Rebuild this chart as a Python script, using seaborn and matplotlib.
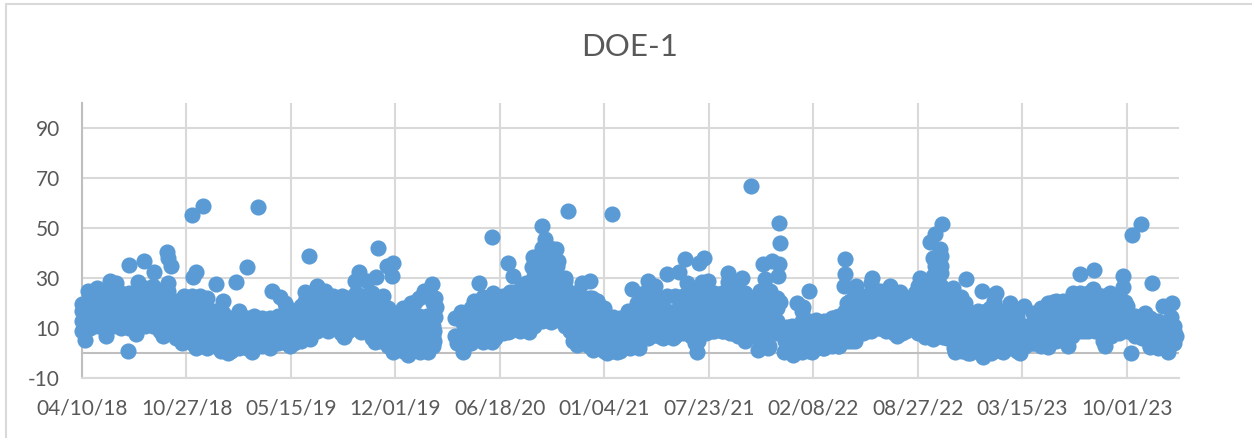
import matplotlib
matplotlib.use("Agg")
import matplotlib.pyplot as plt
from matplotlib.lines import Line2D
import seaborn as sns
import pandas as pd

# ==============================
# Data (days since 04/10/18)
# ==============================
tick_days = [0, 200, 400, 600, 800, 1000, 1200, 1400, 1600, 1800, 2000]
tick_labels = ["04/10/18", "10/27/18", "05/15/19", "12/01/19", "06/18/20", "01/04/21",
               "07/23/21", "02/08/22", "08/27/22", "03/15/23", "10/01/23"]
y_ticks = [-10, 10, 30, 50, 70, 90]

# dots on the outline of the cloud and the outliers
edge_days = [89, 90, 119, 163, 165, 170, 137, 108, 165, 54, 29, 12, 66, 6, 0, 2, 211, 231, 337, 219, 213, 256,
             294, 315, 434, 363, 379, 389, 427, 427, 450, 465, 481, 498, 531, 522, 545, 563, 567, 583, 596, 593,
             577, 580, 45, 103, 156, 191, 219, 239, 267, 280, 325, 360, 398, 436, 471, 501, 535, 561, 596, 625,
             670, 654, 638, 676, 678, 676, 673, 673, 663, 647, 714, 726, 714, 717, 730, 740, 760, 751, 768, 784,
             785, 786, 768, 816, 825, 820, 816, 855, 839, 842, 864, 861, 881, 886, 890, 907, 912, 897, 877, 930,
             925, 934, 947, 957, 973, 985, 976, 953, 979, 1005, 1015, 1024, 1017, 1049, 1067, 1046, 1062, 1052,
             1084, 1075, 1097, 1084, 1113, 1132, 1119, 1142, 1155, 1159, 1181, 1191, 1199, 1174, 1177, 1186, 1206,
             1228, 1247, 1269, 1237, 1264, 1237, 1257, 1279, 1280, 1308, 1295, 1314, 1311, 1334, 1336, 1304, 1320,
             1335, 1332, 1308, 1298, 1318, 1336, 1368, 1381, 1349, 1343, 1361, 1378, 1398, 1392, 1378, 1406,
             1412, 1428, 1419, 1447, 1473, 1444, 1460, 1460, 1461, 1458, 1482, 1470, 1502, 1527, 1512, 1527, 1546,
             1565, 1549, 1560, 1578, 1585, 1594, 1604, 1613, 1629, 1623, 1632, 1646, 1642, 1645, 1632, 1645, 1629,
             1667, 1683, 1691, 1695, 1661, 1648, 1671, 1696, 1692, 1722, 1750, 1738, 1725, 1741, 1763, 1795, 1777,
             1803, 1789, 1821, 1849, 1833, 1858, 1878, 1888, 1898, 1911, 1937, 1935, 1919, 1967, 1958, 1992, 1993,
             1996, 2010, 2027, 2009, 2012, 2034, 2049, 2044, 2069, 2087, 2085, 2090, 2095, 2079, 2060]
edge_vals = [1, 35.3, 37, 40.4, 38, 35, 32.5, 28.3, 28, 29, 26, 25, 28, 5.2, 19.6, 17, 55.2, 59, 58.4, 32.3, 30.5, 27.5,
             28.3, 34.5, 39, 25, 22.5, 20, 24.5, 21, 27, 25, 23, 23, 32.5, 29, 29, 30.5, 42, 35, 36, 31,
             23, 18, 7, 7.5, 7, 4, 2, 2, 1, 0, 0.5, 2, 3, 5.6, 9, 6.5, 8.5, 4.5, 0.5, -0.8,
             27.6, 25, 20.5, 22, 18.5, 14.5, 9, 5, 0.5, 0.5, 14, 16.5, 7, 4, 0.3, 4, 28, 21, 4.5, 4.5,
             46.5, 24, 22.5, 36, 31, 24.5, 8.5, 8.5, 9, 26.5, 38.5, 34.5, 51, 45.5, 40.5, 41.6, 37, 12.5, 14.5, 56.8,
             29, 9, 3.2, 28, 28.8, 21, 22, 20.5, 1.2, -0.1, 55.6, 0.5, 14.5, 2, 2, 17, 20, 25.6,
             29, 24, 27, 6, 6, 6, 31.6, 32.3, 37.7, 28, 36, 38, 28.8, 4, 0.5, 28.5, 9,
             9, 8, 5, 32, 30, 28.5, 25, 22, 67, 14, 1.2, 2, 9, 52, 44, 35.5, 36.8,
             35.6, 30.8, 29.6, 25, 25, 20.5, 20, 18.5, 10.5, 0.5, -0.8, 0.5, 0.3, 25, 10.5, 13.2,
             12.5, 12.5, 2, 3, 5, 14.5, 17, 37.5, 31.5, 26.8, 26.8, 21, 9, 10, 30, 25, 27,
             24.5, 9, 7, 9, 21, 24, 30, 6.5, 5.8, 44.5, 47.5, 51.7, 41.8, 39, 35, 32, 28,
             26, 22.5, 20, 16.5, 16, 6.5, 0.5, 0, 29.5, 25, 24, 18, -1.5, 0, 0.5, 0, 20,
             19, 14.5, 4, 2.5, 17, 20.5, 21, 3, 24, 31.7, 33.2, 25.5, 9, 24, 3, 31, 26.5,
             20.5, 47.2, 51.5, 0, 8, 16, 28, 2.5, 19, 20, 14.5, 9, 7, 0.5, 2]

# dots that fill the inside of the cloud, one list of values per day
fill_days = [0, 15, 30, 45, 60, 75, 90, 105, 120, 135, 150, 165, 180, 195, 210, 225, 240, 255, 270, 285,
             300, 315, 330, 345, 360, 375, 390, 405, 420, 435, 450, 465, 480, 495, 510, 525, 540, 555, 570, 585,
             600, 615, 630, 645, 660, 672, 730, 745, 760, 775, 790, 805, 820, 835, 850, 865, 880, 895, 910, 925,
             940, 955, 970, 985, 1000, 1015, 1030, 1045, 1060, 1075, 1090, 1105, 1120, 1135, 1150, 1165, 1180,
             1195, 1210, 1225, 1240, 1255, 1270, 1285, 1300, 1315, 1330, 1345, 1360, 1378, 1392, 1405, 1420, 1435,
             1450, 1465, 1480, 1495, 1510, 1525, 1540, 1555, 1570, 1585, 1600, 1615, 1630, 1645, 1655, 1670, 1685,
             1700, 1715, 1730, 1745, 1760, 1775, 1790, 1805, 1820, 1835, 1850, 1865, 1880, 1895, 1910, 1925, 1940,
             1955, 1970, 1985, 2000, 2015, 2030, 2045, 2060, 2075, 2090]
fill_vals = [[9, 13, 17], [10, 15, 20, 24], [11, 16, 21, 24], [10, 15, 20, 25], [11, 16, 21, 25], [10, 15, 20, 24],
             [10, 15, 20, 24], [10, 15, 20, 25], [11, 16, 21, 26], [11, 16, 21, 27], [9, 14, 19, 25], [10, 15, 20, 25],
             [6, 11, 16, 21], [5, 10, 15, 20, 23], [4, 9, 14, 19, 23], [3, 8, 13, 18, 23], [3, 8, 13, 18, 22],
             [3, 7, 12, 17], [2, 6, 11, 16, 21], [1, 5, 10, 14], [2, 6, 10, 14, 17], [2, 6, 10, 14], [2, 6, 10, 15],
             [3, 7, 11, 14], [3, 7, 11, 14], [4, 8, 12, 15], [4, 8, 12, 16, 19], [4, 8, 13, 17], [5, 10, 15, 19],
             [7, 12, 17, 21], [9, 14, 19, 24], [10, 15, 20, 24], [10, 14, 19, 22], [8, 13, 18, 21], [9, 14, 19, 22],
             [10, 15, 20, 24], [9, 14, 19, 23], [6, 11, 16, 21, 24], [5, 10, 15, 20], [3, 8, 13, 18], [2, 6, 10, 15],
             [1, 5, 10, 14, 18], [1, 5, 10, 14, 20], [1, 5, 10, 15, 22], [1, 5, 10, 15, 23], [3, 7, 11, 16, 20],
             [3, 8, 12, 16], [4, 9, 14, 18], [6, 11, 16, 20], [6, 11, 16, 21], [6, 11, 16, 21], [8, 13, 18, 23],
             [9, 14, 19, 24], [10, 15, 20, 25], [10, 15, 20, 25, 28], [11, 16, 21, 26, 31, 35],
             [13, 18, 23, 28, 33, 38, 42], [14, 19, 24, 29, 34, 39, 42], [15, 20, 25, 30, 35], [11, 16, 21, 26, 30],
             [5, 10, 15, 20, 24], [4, 9, 14, 19, 23], [3, 8, 13, 18, 22], [2, 7, 12, 17, 21], [1, 6, 11, 15, 18],
             [1, 6, 11, 14], [1, 6, 11, 14], [3, 8, 13, 16], [3, 8, 13, 18], [7, 12, 17, 22], [7, 12, 17, 22, 25],
             [7, 12, 17, 22], [7, 12, 17, 23], [7, 12, 17, 23], [8, 13, 18, 23], [7, 12, 17, 23, 26],
             [5, 10, 15, 20, 24], [8, 13, 18, 24, 28], [9, 14, 19, 24], [9, 14, 19, 24], [8, 13, 18, 23, 27],
             [7, 12, 17, 22, 25], [6, 11, 16, 21, 24], [7, 12, 17, 21], [3, 8, 13, 18, 22], [3, 8, 13, 19, 23],
             [8, 13, 18, 22], [1, 5, 10], [0, 4, 8, 11], [1, 5, 9, 13, 17], [1, 5, 9, 13], [2, 6, 10, 13],
             [2, 6, 10, 13], [3, 7, 11, 14], [3, 7, 11, 15], [5, 10, 15, 20], [5, 10, 15, 20, 24], [8, 13, 18, 23],
             [9, 14, 19, 24, 28], [10, 15, 20, 24], [9, 14, 19, 24], [8, 13, 18, 23], [8, 13, 18, 23], [10, 15, 20],
             [8, 13, 18, 23, 27], [7, 12, 17, 22, 27], [6, 11, 16, 21, 26, 31, 38], [7, 12, 17, 22, 27, 35],
             [6, 11, 20, 25], [2, 6, 10, 14, 21], [1, 5, 9, 13, 18], [0, 4, 8, 11], [1, 5, 9, 13, 17],
             [0, 4, 8, 12, 17], [1, 5, 9, 13, 18, 21], [1, 5, 9, 13, 17], [2, 6, 10, 14, 18], [1, 5, 9, 13, 16],
             [3, 7, 11], [4, 8, 12, 16], [3, 7, 11, 15, 18], [3, 7, 11, 15, 20], [5, 9, 13, 17, 21], [5, 10, 15, 20],
             [7, 12, 17, 22], [9, 14, 19, 24], [9, 14, 19, 24], [9, 14, 19, 24], [5, 10, 15, 20, 23], [7, 12, 17, 22],
             [8, 13, 18, 23], [9, 14, 19], [7, 11, 15], [6, 10, 14], [3, 7, 11, 14], [3, 7, 10, 13], [2, 6, 10],
             [4, 8, 11]]

# ==============================
# Table for seaborn
# ==============================
fill_df = pd.DataFrame({"day": fill_days, "value": fill_vals}).explode("value")
edge_df = pd.DataFrame({"day": edge_days, "value": edge_vals})
df = pd.concat([edge_df, fill_df], ignore_index=True)
df["value"] = df["value"].astype(float)

# ==============================
# Plot
# ==============================
sns.set_theme(style="white")
plt.rcParams["font.family"] = ["Lato", "DejaVu Sans"]
plt.rcParams["axes.unicode_minus"] = False

W, H = 1252, 438
fig = plt.figure(figsize=(W / 100, H / 100), dpi=100, facecolor="white")
ax = fig.add_axes([82 / W, 1 - 378 / H, (1179 - 82) / W, (378 - 103) / H])

sns.scatterplot(data=df, x="day", y="value", s=135, color="#5B9BD5", linewidth=0,
                clip_on=False, zorder=3, legend=False, ax=ax)

ax.set_xlim(0, 2100)
ax.set_ylim(-10, 100)
ax.set_xticks(tick_days)
ax.set_xticklabels(tick_labels)
ax.set_yticks(y_ticks)
ax.set_xlabel("")
ax.set_ylabel("")
ax.grid(True, color="#D9D9D9", linewidth=1.5)
ax.set_axisbelow(True)
ax.tick_params(axis="both", length=0, labelsize=15, labelcolor="#595959")
ax.tick_params(axis="x", pad=15)
ax.tick_params(axis="y", pad=16)

for side in ["top", "right"]:
    ax.spines[side].set_visible(False)
ax.spines["bottom"].set_color("#D9D9D9")
ax.spines["bottom"].set_linewidth(1.5)
ax.spines["left"].set_color("#BFBFBF")
ax.spines["left"].set_linewidth(1.5)
ax.axhline(0, color="#BFBFBF", linewidth=1.5, zorder=2)

fig.text(630 / W, 1 - 47 / H, "DOE-1", fontsize=22.5, color="#595959", ha="center", va="center")

# chart frame, only top and left are inside the crop
fig.add_artist(Line2D([6 / W, 6 / W], [0, 1 - 4 / H], color="#D9D9D9", linewidth=1.5))
fig.add_artist(Line2D([6 / W, 1], [1 - 4 / H, 1 - 4 / H], color="#D9D9D9", linewidth=1.5))

fig.savefig("out.png", dpi=100)
